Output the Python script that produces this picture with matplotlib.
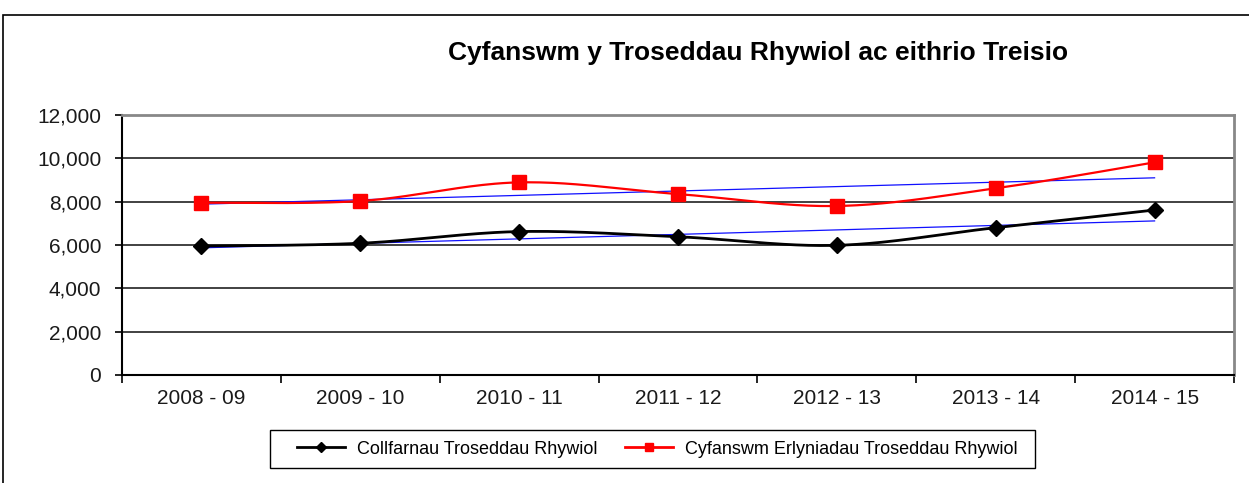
import numpy as np
import matplotlib
matplotlib.use("Agg")
import matplotlib.pyplot as plt
from matplotlib.patches import Rectangle
from matplotlib.lines import Line2D

categories = ["2008 - 09", "2009 - 10", "2010 - 11", "2011 - 12", "2012 - 13", "2013 - 14", "2014 - 15"]
collfarnau = [5950, 6080, 6620, 6380, 5985, 6800, 7615]
erlyniadau = [7950, 8030, 8890, 8350, 7800, 8615, 9815]
yticks = [0, 2000, 4000, 6000, 8000, 10000, 12000]
ytick_labels = ["0", "2,000", "4,000", "6,000", "8,000", "10,000", "12,000"]
title = "Cyfanswm y Troseddau Rhywiol ac eithrio Treisio"
label_black = "Collfarnau Troseddau Rhywiol"
label_red = "Cyfanswm Erlyniadau Troseddau Rhywiol"

plt.rcParams['font.family'] = ['Liberation Sans', 'DejaVu Sans']


def smooth(xs, ys, n=40):
    # Excel-style smoothed line: cubic Bezier with Catmull-Rom control points
    xs = np.asarray(xs, float); ys = np.asarray(ys, float)
    P = np.column_stack([xs, ys])
    out = []
    for i in range(len(P) - 1):
        p0 = P[i - 1] if i > 0 else P[i]
        p1 = P[i]; p2 = P[i + 1]
        p3 = P[i + 2] if i + 2 < len(P) else P[i + 1]
        c1 = p1 + (p2 - p0) / 6.0
        c2 = p2 - (p3 - p1) / 6.0
        t = np.linspace(0, 1, n)[:, None]
        seg = (1 - t) ** 3 * p1 + 3 * (1 - t) ** 2 * t * c1 + 3 * (1 - t) * t ** 2 * c2 + t ** 3 * p2
        out.append(seg if i == 0 else seg[1:])
    out = np.vstack(out)
    return out[:, 0], out[:, 1]


W, H = 1249, 483
fig = plt.figure(figsize=(W / 100, H / 100), dpi=100)
fig.patches.append(Rectangle((3 / W, -0.1), 1.2, (H - 15) / H + 0.1,
                             transform=fig.transFigure, fill=False,
                             edgecolor="black", linewidth=1.2))

ax = fig.add_axes([122 / W, (H - 375) / H, (1234 - 122) / W, (375 - 115) / H])
x = np.arange(len(categories))

for ys, col in [(collfarnau, "black"), (erlyniadau, "red")]:
    m, b = np.polyfit(x, ys, 1)
    ax.plot([x[0], x[-1]], [m * x[0] + b, m * x[-1] + b], color="#1010ff", lw=0.9, zorder=3)

sx, sy = smooth(x, collfarnau)
ax.plot(sx, sy, color="black", lw=2.0, zorder=4)
ax.plot(x, collfarnau, linestyle="none", marker="D", markersize=8, color="black", zorder=5)
sx, sy = smooth(x, erlyniadau)
ax.plot(sx, sy, color="red", lw=1.6, zorder=4)
ax.plot(x, erlyniadau, linestyle="none", marker="s", markersize=10, color="red", zorder=5)

ax.set_xlim(-0.5, len(categories) - 0.5)
ax.set_ylim(0, 12000)
ax.set_yticks(yticks)
ax.set_yticklabels(ytick_labels, fontsize=15, color="#1a1a1a")
ax.yaxis.grid(True, color="#333333", linewidth=1.3)
ax.set_axisbelow(True)
ax.tick_params(axis="y", length=5, width=1.2, pad=10, direction="out")

ax.set_xticks(np.arange(-0.5, len(categories)), minor=False)
ax.set_xticklabels([])
ax.set_xticks(x, minor=True)
ax.set_xticklabels(categories, minor=True, fontsize=15, color="#1a1a1a")
ax.tick_params(axis="x", which="major", length=6, width=1.2, direction="out")
ax.tick_params(axis="x", which="minor", length=0, pad=10)

for s in ["left", "bottom"]:
    ax.spines[s].set_color("black"); ax.spines[s].set_linewidth(1.5)
for s in ["top", "right"]:
    ax.spines[s].set_color("#888888"); ax.spines[s].set_linewidth(2.0)

fig.text(758 / W, 1 - 53 / H, title, ha="center", va="center", fontsize=19, fontweight="bold")

# legend box
fig.patches.append(Rectangle((270 / W, (H - 468) / H), (1035 - 270) / W, 38 / H,
                             transform=fig.transFigure, fill=True, facecolor="white",
                             edgecolor="black", linewidth=1.0, zorder=5))
handles = [Line2D([], [], color="black", lw=2, marker="D", markersize=5),
           Line2D([], [], color="red", lw=2, marker="s", markersize=6)]
leg = fig.legend(handles, [label_black, label_red], loc="center",
                 bbox_to_anchor=(657.5 / W, (H - 449) / H), ncol=2, fontsize=13,
                 frameon=False, handlelength=2.65, columnspacing=1.5,
                 handletextpad=0.67, borderpad=0.0)
leg.set_zorder(6)

fig.savefig("out.png", dpi=100)
